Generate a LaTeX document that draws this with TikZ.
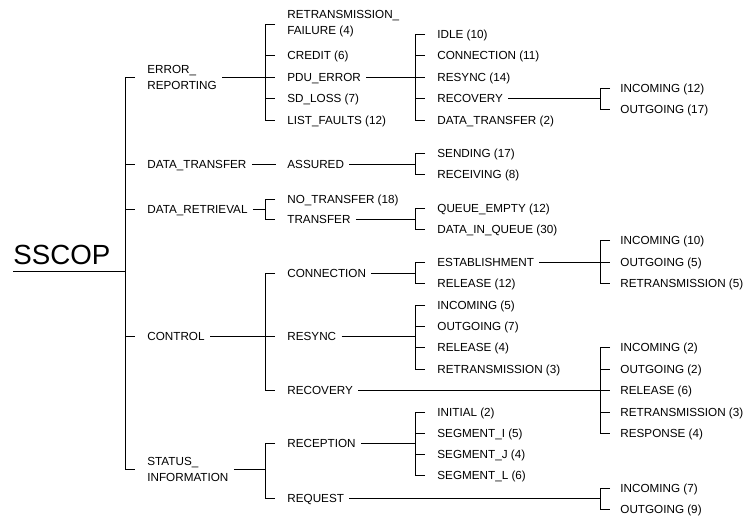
\documentclass[tikz,border=0pt]{standalone}
\usepackage{fontspec}
\setmainfont{Liberation Sans}
\tikzset{lab/.style = {anchor=west, inner xsep=5pt, inner ysep=2pt,
                       font=\fontsize{11.7}{16}\selectfont},
         row/.style = {lab, text height=8.4pt, text depth=0pt},
         two/.style = {lab, align=left}}
% parent, column, first child, last child
\newcommand{\treefork}[4]{%
  \draw (#1.east) -- (#1.east -| #2);
  \draw (#3.west -| #2) ++(10, 0) -- (#3.west -| #2) -- (#4.west -| #2) -- ++(10, 0);}

\begin{document}
\begin{tikzpicture}[x=1pt, y=-1pt, line width=0.8pt]
    \useasboundingbox (0, 0) rectangle (745, 520);
    \coordinate (b1) at (125, 0);
    \coordinate (b2) at (265, 0);
    \coordinate (b3) at (415, 0);
    \coordinate (b4) at (600, 0);

    \node [font=\fontsize{27.7}{30}\selectfont, anchor=south west,
           inner xsep=0pt, inner ysep=6pt, text depth=0pt] (sscop) at (13, 271) {SSCOP};

    % first level
    \node [two] (err) at (142, 77) {ERROR\_\\REPORTING};
    \node [row] (dtr) at (142, 164) {DATA\_TRANSFER};
    \node [row] (drt) at (142, 209) {DATA\_RETRIEVAL};
    \node [row] (ctl) at (142, 336) {CONTROL};
    \node [two] (sti) at (142, 469) {STATUS\_\\INFORMATION};

    % second level
    \node [two] (rtf) at (282, 24) {RETRANSMISSION\_\\FAILURE (4)};
    \foreach \y/\n/\t in {55/crd/CREDIT (6), 77/pdu/PDU\_ERROR, 98/sdl/SD\_LOSS (7),
                          120/lsf/LIST\_FAULTS (12), 164/asd/ASSURED,
                          199/ntr/NO\_TRANSFER (18), 219/trf/TRANSFER,
                          273/con/CONNECTION, 336/rsy/RESYNC, 390/rcv/RECOVERY,
                          443/rcp/RECEPTION, 498/req/REQUEST} {
      \node [row] (\n) at (282, \y) {\t};
    }

    % third level
    \foreach \y/\n/\t in {34/idl/IDLE (10), 55/cnx/CONNECTION (11), 77/rsn/RESYNC (14),
                          98/rec/RECOVERY, 120/dtx/DATA\_TRANSFER (2),
                          153/snd/SENDING (17), 174/rcg/RECEIVING (8),
                          208/qem/QUEUE\_EMPTY (12), 229/diq/DATA\_IN\_QUEUE (30),
                          262/est/ESTABLISHMENT, 283/rlt/RELEASE (12),
                          305/rin/INCOMING (5), 326/rou/OUTGOING (7),
                          347/rre/RELEASE (4), 369/rrt/RETRANSMISSION (3),
                          412/ini/INITIAL (2), 433/sgi/SEGMENT\_I (5),
                          454/sgj/SEGMENT\_J (4), 475/sgl/SEGMENT\_L (6)} {
      \node [row] (\n) at (432, \y) {\t};
    }

    % fourth level
    \foreach \y/\n/\t in {88/ein/INCOMING (12), 109/eou/OUTGOING (17),
                          240/cin/INCOMING (10), 262/cou/OUTGOING (5),
                          283/crt/RETRANSMISSION (5),
                          347/vin/INCOMING (2), 369/vou/OUTGOING (2), 390/vre/RELEASE (6),
                          412/vrt/RETRANSMISSION (3), 433/vrs/RESPONSE (4),
                          488/qin/INCOMING (7), 509/qou/OUTGOING (9)} {
      \node [row] (\n) at (615, \y) {\t};
    }

    % root bracket
    \draw (sscop.south west) -- (sscop.south west -| b1);
    \draw (err.west -| b1) ++(10, 0) -- (err.west -| b1) -- (sti.west -| b1) -- ++(10, 0);
    \foreach \n in {dtr, drt, ctl} {
      \draw (\n.west -| b1) -- ++(10, 0);
    }

    % brackets
    \treefork{err}{b2}{rtf}{lsf}
    \draw (dtr.east) -- ([xshift=-6pt]asd.west);
    \treefork{drt}{b2}{ntr}{trf}
    \treefork{ctl}{b2}{con}{rcv}
    \treefork{sti}{b2}{rcp}{req}
    \treefork{pdu}{b3}{idl}{dtx}
    \treefork{asd}{b3}{snd}{rcg}
    \treefork{trf}{b3}{qem}{diq}
    \treefork{con}{b3}{est}{rlt}
    \treefork{rsy}{b3}{rin}{rrt}
    \treefork{rcp}{b3}{ini}{sgl}
    \treefork{rec}{b4}{ein}{eou}
    \treefork{est}{b4}{cin}{crt}
    \treefork{rcv}{b4}{vin}{vrs}
    \treefork{req}{b4}{qin}{qou}

    \foreach \n/\c in {crd/b2, pdu/b2, sdl/b2, rsy/b2,
                       cnx/b3, rsn/b3, rec/b3, rou/b3, rre/b3, sgi/b3, sgj/b3,
                       cou/b4, vou/b4, vre/b4, vrt/b4} {
      \draw (\n.west -| \c) -- ++(10, 0);
    }
  \end{tikzpicture}
\end{document}
